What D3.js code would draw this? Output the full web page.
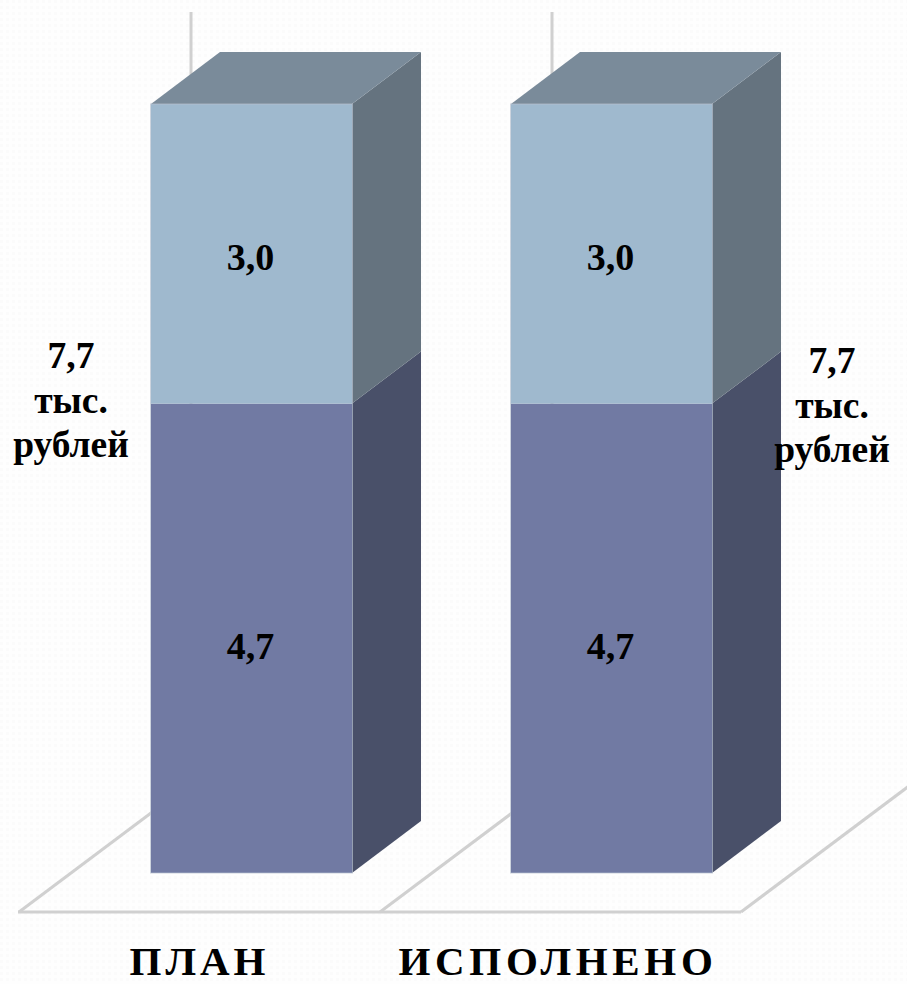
<!DOCTYPE html>
<html><head><meta charset="utf-8">
<script src="https://cdn.jsdelivr.net/npm/d3@7"></script>
<style>html,body{margin:0;padding:0;background:#fdfdfd;overflow:hidden}svg{display:block}
text{font-family:"Liberation Serif",serif;font-weight:700;fill:#000}</style></head>
<body><div id="c"></div>
<script>
const categories = ["ПЛАН", "ИСПОЛНЕНО"];
const lowerValues = [4.7, 4.7];
const upperValues = [3.0, 3.0];
const valueLabels = ["4,7", "3,0"];
const totalLabelLines = ["7,7", "тыс.", "рублей"];
const lowerColors = {front:"#717aa3", side:"#495069"};
const upperColors = {front:"#9fb9ce", side:"#65737f", top:"#7a8b9a"};

const W = 907, H = 984;
const svg = d3.select("#c").append("svg").attr("width", W).attr("height", H);

const defs = svg.append("defs");
const pat = defs.append("pattern").attr("id","bgp").attr("width",6).attr("height",6).attr("patternUnits","userSpaceOnUse");
pat.append("rect").attr("width",6).attr("height",6).attr("fill","#fefefe");
pat.append("rect").attr("width",3).attr("height",3).attr("fill","#fbfbfb");
svg.append("rect").attr("width",W).attr("height",H).attr("fill","url(#bgp)");

const xFloor = d3.scaleBand().domain(categories).range([19, 741]);
const xBar = d3.scaleBand().domain(categories).range([71.5, 791.5]);
const y = d3.scaleLinear().domain([0, 7.7]).range([873, 104]);
const floorY = 912, dx = 69, dy = -52;
const wallDx = 172, wallDy = -129, wallTop = 12;

// floor and walls
const gridG = svg.append("g").attr("fill","none").attr("stroke","#d0d0d0").attr("stroke-width",3);
const floorXs = [...categories.map(c => xFloor(c)), 741];
gridG.append("line").attr("x1",18).attr("x2",741).attr("y1",floorY).attr("y2",floorY);
floorXs.forEach(fx => {
  gridG.append("line").attr("x1",fx).attr("y1",floorY).attr("x2",fx+wallDx).attr("y2",floorY+wallDy);
});
categories.forEach(c => {
  gridG.append("line").attr("x1",xFloor(c)+wallDx).attr("x2",xFloor(c)+wallDx).attr("y1",floorY+wallDy).attr("y2",wallTop);
});

const barW = 201;
const barX = c => xBar(c) + xBar.bandwidth()/2 - barW/2;
const poly = pts => pts.map(p => p.join(",")).join(" ");
const catCx = [199.5, 558];
const catSpacing = [4, 4.7];

categories.forEach((c,i) => {
  const g = svg.append("g");
  const x0 = barX(c), x1 = x0 + barW;
  const segs = [
    {from:0, to:lowerValues[i], col:lowerColors},
    {from:lowerValues[i], to:lowerValues[i]+upperValues[i], col:upperColors}
  ];
  segs.forEach((s,k) => {
    const yb = y(s.from), yt = y(s.to);
    g.append("polygon").attr("points", poly([[x1,yb],[x1+dx,yb+dy],[x1+dx,yt+dy],[x1,yt]])).attr("fill", s.col.side);
    if (k === 1) g.append("polygon").attr("points", poly([[x0,yt],[x0+dx,yt+dy],[x1+dx,yt+dy],[x1,yt]])).attr("fill", s.col.top);
    g.append("rect").attr("x",x0).attr("y",yt).attr("width",barW).attr("height",yb-yt).attr("fill",s.col.front);
  });
  g.append("rect").attr("x",x0-0.5).attr("y",y(7.7)).attr("width",barW+1).attr("height",y(0)-y(7.7))
    .attr("fill","none").attr("stroke","#b8c2d0").attr("stroke-width",1).attr("opacity",0.7);
  const cx = x0 + barW/2 - 1;
  g.append("text").attr("x",cx).attr("y",y(lowerValues[i]/2)+21).attr("text-anchor","middle").attr("font-size",38).text(valueLabels[0]);
  g.append("text").attr("x",cx).attr("y",y(lowerValues[i]+upperValues[i]/2)+16).attr("text-anchor","middle").attr("font-size",38).text(valueLabels[1]);
  svg.append("text").attr("x",catCx[i]).attr("y",975)
    .attr("text-anchor","middle").attr("font-size",41).attr("letter-spacing", catSpacing[i]).text(c);
});

const sides = [{x:71, base:368},{x:832, base:373}];
sides.forEach(s => {
  totalLabelLines.forEach((t,j) => {
    svg.append("text").attr("x",s.x).attr("y",s.base+j*44.5).attr("text-anchor","middle").attr("font-size",37.5).text(t);
  });
});
</script></body></html>
